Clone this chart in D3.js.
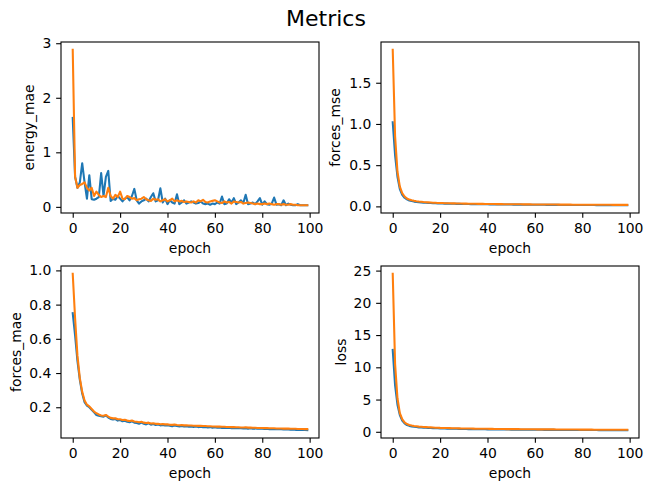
<!DOCTYPE html>
<html lang="en">
<head>
<meta charset="UTF-8">
<script src="https://d3js.org/d3.v7.min.js"></script>
<title>Metrics</title>
<style>
    body { margin: 0; background: #fff; }
    text { font-family: "DejaVu Sans", sans-serif; fill: #000; }
</style>
</head>
<body>
<svg width="651" height="491"></svg>
<script>
// epochs 0..99
const epochs = d3.range(100);

// energy_mae
const energyTrain = [1.63,0.55,0.35,0.45,0.80,0.45,0.15,0.58,0.14,0.13,
    0.15,0.18,0.62,0.20,0.55,0.66,0.11,0.15,0.13,0.20,
    0.15,0.10,0.15,0.18,0.12,0.20,0.33,0.12,0.06,0.10,
    0.12,0.15,0.10,0.18,0.25,0.10,0.12,0.34,0.08,0.15,
    0.05,0.12,0.08,0.06,0.23,0.05,0.08,0.12,0.06,0.08,
    0.10,0.08,0.06,0.07,0.10,0.06,0.05,0.06,0.04,0.06,
    0.05,0.08,0.06,0.19,0.05,0.06,0.14,0.08,0.16,0.05,
    0.08,0.12,0.07,0.22,0.05,0.06,0.08,0.05,0.10,0.16,
    0.04,0.10,0.05,0.04,0.06,0.17,0.04,0.05,0.03,0.12,
    0.03,0.06,0.04,0.03,0.03,0.05,0.03,0.03,0.03,0.03];
const energyVal = [2.88,0.55,0.35,0.40,0.42,0.45,0.35,0.30,0.35,0.20,
    0.28,0.22,0.18,0.20,0.18,0.35,0.20,0.15,0.22,0.18,
    0.28,0.15,0.14,0.20,0.18,0.15,0.16,0.12,0.14,0.15,
    0.18,0.14,0.12,0.11,0.15,0.13,0.14,0.10,0.12,0.14,
    0.10,0.12,0.15,0.10,0.12,0.10,0.11,0.09,0.10,0.09,
    0.08,0.10,0.08,0.12,0.10,0.13,0.09,0.08,0.10,0.11,
    0.12,0.10,0.08,0.07,0.10,0.08,0.09,0.06,0.10,0.09,
    0.08,0.09,0.06,0.07,0.08,0.07,0.06,0.05,0.06,0.05,
    0.05,0.06,0.05,0.06,0.05,0.04,0.05,0.05,0.04,0.05,
    0.04,0.04,0.05,0.04,0.04,0.03,0.03,0.03,0.03,0.03];

// forces_mse
const mseTrain = [1.02,0.62,0.36,0.21,0.14,0.105,0.085,0.072,0.064,0.058,
    0.054,0.050,0.047,0.045,0.043,0.041,0.040,0.038,0.037,0.036,
    0.035,0.034,0.033,0.033,0.032,0.031,0.031,0.030,0.030,0.029,
    0.029,0.028,0.028,0.027,0.027,0.027,0.026,0.026,0.025,0.025,
    0.025,0.024,0.024,0.024,0.023,0.023,0.023,0.022,0.022,0.022,
    0.022,0.021,0.021,0.021,0.021,0.020,0.020,0.020,0.020,0.020,
    0.019,0.019,0.019,0.019,0.019,0.018,0.018,0.018,0.018,0.018,
    0.018,0.017,0.017,0.017,0.017,0.017,0.017,0.017,0.016,0.016,
    0.016,0.016,0.016,0.016,0.016,0.016,0.015,0.015,0.015,0.015,
    0.015,0.015,0.015,0.015,0.015,0.015,0.015,0.014,0.014,0.014];
const mseVal = [1.90,0.85,0.42,0.24,0.16,0.12,0.095,0.082,0.074,0.068,
    0.063,0.059,0.056,0.053,0.051,0.049,0.047,0.045,0.044,0.042,
    0.041,0.040,0.039,0.038,0.037,0.036,0.036,0.035,0.034,0.034,
    0.033,0.033,0.032,0.032,0.031,0.031,0.030,0.030,0.030,0.029,
    0.029,0.028,0.028,0.028,0.027,0.027,0.027,0.026,0.026,0.026,
    0.026,0.025,0.025,0.025,0.025,0.024,0.024,0.024,0.024,0.023,
    0.023,0.023,0.023,0.023,0.022,0.022,0.022,0.022,0.022,0.022,
    0.021,0.021,0.021,0.021,0.021,0.021,0.020,0.020,0.020,0.020,
    0.020,0.020,0.020,0.020,0.019,0.019,0.019,0.019,0.019,0.019,
    0.019,0.019,0.019,0.018,0.018,0.018,0.018,0.018,0.018,0.018];

// forces_mae
const maeTrain = [0.75,0.62,0.47,0.36,0.28,0.23,0.21,0.20,0.185,0.17,
    0.155,0.150,0.148,0.145,0.152,0.140,0.132,0.128,0.131,0.122,
    0.125,0.118,0.121,0.115,0.112,0.118,0.110,0.108,0.104,0.110,
    0.103,0.100,0.106,0.098,0.102,0.096,0.099,0.094,0.097,0.093,
    0.095,0.092,0.089,0.094,0.090,0.088,0.091,0.087,0.089,0.086,
    0.088,0.085,0.087,0.084,0.086,0.083,0.085,0.082,0.084,0.081,
    0.083,0.080,0.082,0.079,0.081,0.079,0.080,0.078,0.079,0.077,
    0.078,0.077,0.076,0.078,0.075,0.077,0.075,0.076,0.074,0.075,
    0.074,0.073,0.074,0.072,0.073,0.072,0.071,0.073,0.071,0.070,
    0.071,0.070,0.069,0.070,0.068,0.069,0.068,0.067,0.067,0.066];
const maeVal = [0.98,0.72,0.50,0.37,0.29,0.24,0.215,0.205,0.19,0.175,
    0.165,0.158,0.152,0.150,0.155,0.145,0.138,0.135,0.136,0.130,
    0.130,0.126,0.127,0.122,0.120,0.122,0.117,0.115,0.112,0.115,
    0.110,0.108,0.110,0.105,0.106,0.103,0.104,0.101,0.102,0.100,
    0.100,0.098,0.097,0.099,0.096,0.095,0.096,0.094,0.094,0.093,
    0.093,0.092,0.092,0.091,0.091,0.090,0.090,0.089,0.089,0.088,
    0.088,0.087,0.087,0.086,0.086,0.085,0.085,0.084,0.084,0.083,
    0.083,0.082,0.082,0.083,0.081,0.081,0.080,0.080,0.079,0.079,
    0.079,0.078,0.078,0.077,0.077,0.077,0.076,0.076,0.076,0.075,
    0.075,0.075,0.074,0.074,0.074,0.073,0.073,0.073,0.072,0.072];

// loss
const lossTrain = [12.7,7.2,4.2,2.6,1.75,1.30,1.05,0.92,0.84,0.78,
    0.73,0.69,0.66,0.64,0.62,0.60,0.58,0.56,0.55,0.54,
    0.52,0.51,0.50,0.49,0.48,0.47,0.47,0.46,0.45,0.44,
    0.44,0.43,0.42,0.42,0.41,0.41,0.40,0.40,0.39,0.39,
    0.38,0.38,0.37,0.37,0.37,0.36,0.36,0.35,0.35,0.35,
    0.34,0.34,0.34,0.33,0.33,0.33,0.32,0.32,0.32,0.32,
    0.31,0.31,0.31,0.31,0.30,0.30,0.30,0.30,0.30,0.29,
    0.29,0.29,0.29,0.29,0.28,0.28,0.28,0.28,0.28,0.28,
    0.27,0.27,0.27,0.27,0.27,0.27,0.27,0.26,0.26,0.26,
    0.26,0.26,0.26,0.26,0.25,0.25,0.25,0.25,0.25,0.25];
const lossVal = [24.5,10.5,5.2,2.9,1.95,1.45,1.20,1.06,0.97,0.90,
    0.85,0.80,0.77,0.74,0.72,0.70,0.68,0.66,0.64,0.63,
    0.61,0.60,0.59,0.58,0.57,0.56,0.55,0.54,0.53,0.52,
    0.52,0.51,0.50,0.50,0.49,0.48,0.48,0.47,0.47,0.46,
    0.46,0.45,0.45,0.44,0.44,0.44,0.43,0.43,0.42,0.42,
    0.42,0.41,0.41,0.41,0.40,0.40,0.40,0.39,0.39,0.39,
    0.39,0.38,0.38,0.38,0.38,0.37,0.37,0.37,0.37,0.36,
    0.36,0.36,0.36,0.36,0.35,0.35,0.35,0.35,0.35,0.34,
    0.34,0.34,0.34,0.34,0.34,0.33,0.33,0.33,0.33,0.33,
    0.33,0.32,0.32,0.32,0.32,0.32,0.32,0.31,0.31,0.31];

// tick labels
const xTicks = [0, 20, 40, 60, 80, 100];
const energyTicks = [0, 1, 2, 3];
const mseTicks = [0, 0.5, 1, 1.5];
const maeTicks = [0.2, 0.4, 0.6, 0.8, 1.0];
const lossTicks = [0, 5, 10, 15, 20, 25];

const colors = ["#1f77b4", "#ff7f0e"];

const svg = d3.select("svg");

// figure title
svg.append("text")
    .attr("x", 326)
    .attr("y", 26)
    .attr("text-anchor", "middle")
    .style("font-size", "22px")
    .text("Metrics");

const panels = [
    { label: "energy_mae", train: energyTrain, val: energyVal, ticks: energyTicks, fmt: d3.format("d"),
      left: 61, top: 42, right: 319, bottom: 213, labelX: 34 },
    { label: "forces_mse", train: mseTrain, val: mseVal, ticks: mseTicks, fmt: d3.format(".1f"),
      left: 381, top: 42, right: 639, bottom: 213, labelX: 340 },
    { label: "forces_mae", train: maeTrain, val: maeVal, ticks: maeTicks, fmt: d3.format(".1f"),
      left: 61, top: 266, right: 319, bottom: 438, labelX: 21 },
    { label: "loss", train: lossTrain, val: lossVal, ticks: lossTicks, fmt: d3.format("d"),
      left: 381, top: 266, right: 639, bottom: 438, labelX: 346 }
];

const tick = 4.86;

panels.forEach(p => {
    // matplotlib-style 5% margins
    const x = d3.scaleLinear()
        .domain([-4.95, 103.95])
        .range([p.left, p.right]);

    const all = p.train.concat(p.val);
    const lo = d3.min(all), hi = d3.max(all), pad = (hi - lo) * 0.05;
    const y = d3.scaleLinear()
        .domain([lo - pad, hi + pad])
        .range([p.bottom, p.top]);

    const line = d3.line()
        .x((d, i) => x(epochs[i]))
        .y(d => y(d));

    [p.train, p.val].forEach((s, k) => {
        svg.append("path")
            .datum(s)
            .attr("d", line)
            .attr("fill", "none")
            .attr("stroke", colors[k])
            .attr("stroke-width", 2.08)
            .attr("stroke-linejoin", "round")
            .attr("stroke-linecap", "square");
    });

    // x axis
    const gx = svg.append("g")
        .attr("transform", `translate(0,${p.bottom})`)
        .call(d3.axisBottom(x).tickValues(xTicks).tickSize(tick).tickPadding(tick).tickSizeOuter(0));

    // y axis
    const gy = svg.append("g")
        .attr("transform", `translate(${p.left},0)`)
        .call(d3.axisLeft(y).tickValues(p.ticks).tickFormat(p.fmt).tickSize(tick).tickPadding(tick).tickSizeOuter(0));

    [gx, gy].forEach(g => {
        g.select(".domain").remove();
        g.attr("font-family", null).attr("font-size", null);
        g.selectAll("line").attr("stroke", "#000").attr("stroke-width", 1.1);
        g.selectAll("text").style("font-size", "13.9px").attr("fill", "#000");
    });

    // frame
    svg.append("rect")
        .attr("x", p.left)
        .attr("y", p.top)
        .attr("width", p.right - p.left)
        .attr("height", p.bottom - p.top)
        .attr("fill", "none")
        .attr("stroke", "#000")
        .attr("stroke-width", 1.1);

    // axis labels
    svg.append("text")
        .attr("x", (p.left + p.right) / 2)
        .attr("y", p.bottom + 40)
        .attr("text-anchor", "middle")
        .style("font-size", "13.9px")
        .text("epoch");

    svg.append("text")
        .attr("transform", `translate(${p.labelX},${(p.top + p.bottom) / 2}) rotate(-90)`)
        .attr("text-anchor", "middle")
        .style("font-size", "13.9px")
        .text(p.label);
});
</script>
</body>
</html>
